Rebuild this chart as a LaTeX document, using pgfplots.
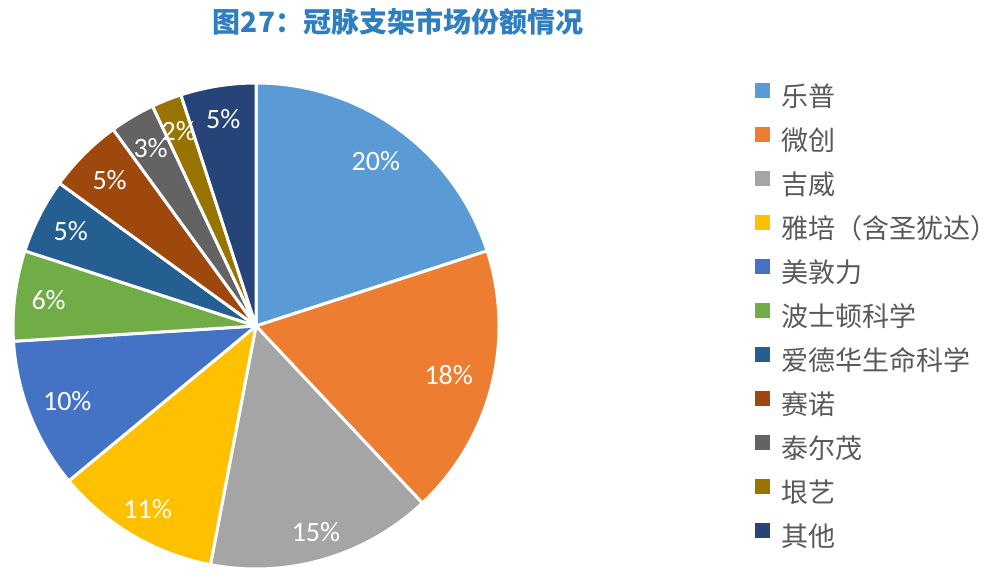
\documentclass[border=0pt]{standalone}
\usepackage{fontspec}
\setmainfont{Noto Sans CJK SC}
\newfontfamily\numfont{Carlito}
\usepackage{pgfplots}
\usepackage{pgfplotstable}
\pgfplotsset{compat=1.18}

\definecolor{c0}{HTML}{5B9BD5}
\definecolor{c1}{HTML}{ED7D31}
\definecolor{c2}{HTML}{A5A5A5}
\definecolor{c3}{HTML}{FFC000}
\definecolor{c4}{HTML}{4472C4}
\definecolor{c5}{HTML}{70AD47}
\definecolor{c6}{HTML}{255E91}
\definecolor{c7}{HTML}{9E480E}
\definecolor{c8}{HTML}{636363}
\definecolor{c9}{HTML}{997300}
\definecolor{c10}{HTML}{264478}
\definecolor{titleblue}{HTML}{2F7EC0}
\definecolor{legtext}{HTML}{595959}

% share (%) and label distance from the centre (px)
\pgfplotstableread{
value lr
20 204
18 199
15 215
11 213
10 203
6  209
5  208
5  207
3  207
2  210
5  209
}\piedata

\pgfplotsset{sq/.style={legend image code/.code={
  \fill[#1] (0pt,1pt) rectangle (7pt,8pt);
  \path (13pt,0pt);}}}

\begin{document}
\begin{tikzpicture}
% start / end / middle angles, clockwise from 12 o'clock
\def\piecum{0}
\pgfplotsforeachungrouped \i in {0,...,10}{%
  \pgfplotstablegetelem{\i}{value}\of\piedata
  \let\pieval\pgfplotsretval
  \pgfplotstablegetelem{\i}{lr}\of\piedata
  \let\pielr\pgfplotsretval
  \pgfmathsetmacro{\piestart}{90-3.6*\piecum}
  \pgfmathsetmacro{\pieend}{90-3.6*(\piecum+\pieval)}
  \pgfmathsetmacro{\piemid}{(\piestart+\pieend)/2}
  \pgfmathsetmacro{\pielrpt}{0.5*\pielr}
  \expandafter\xdef\csname sa\i\endcsname{\piestart}
  \expandafter\xdef\csname sb\i\endcsname{\pieend}
  \expandafter\xdef\csname sm\i\endcsname{\piemid}
  \expandafter\xdef\csname sr\i\endcsname{\pielrpt pt}
  \expandafter\xdef\csname sv\i\endcsname{\pieval}
  \pgfmathsetmacro{\piecum}{\piecum+\pieval}
}

\begin{axis}[
  width=500pt, height=290.5pt, scale only axis,
  xmin=0, xmax=1000, ymin=0, ymax=581,
  hide axis, clip=false,
  legend style={at={(axis cs:755,498)}, anchor=north west,
    draw=none, fill=none, inner sep=0pt, outer sep=0pt,
    font=\fontsize{13.5}{13.5}\selectfont, text=legtext,
    nodes={inner sep=0pt, text height=10pt, text depth=3pt},
    row sep=7.3pt},
  legend cell align=left,
]
\path (axis cs:0,0) rectangle (axis cs:1000,581);

\pgfplotsinvokeforeach{0,...,10}{
  \filldraw[fill=c#1, draw=white, line width=1.5pt, line join=round]
    (axis cs:256,255) -- ++(\csname sa#1\endcsname:121.5pt)
    arc[start angle=\csname sa#1\endcsname, end angle=\csname sb#1\endcsname, radius=121.5pt]
    -- cycle;
}
\pgfplotsinvokeforeach{0,...,10}{
  \path (axis cs:256,255) ++(\csname sm#1\endcsname:\csname sr#1\endcsname)
    node[text=white, font=\numfont\fontsize{14}{14}\selectfont] {\csname sv#1\endcsname\%};
}

\node[font=\bfseries\fontsize{14}{14}\selectfont, text=titleblue] at (axis cs:398,559) {图27：冠脉支架市场份额情况};

\addlegendimage{sq=c0}  \addlegendentry{乐普}
\addlegendimage{sq=c1}  \addlegendentry{微创}
\addlegendimage{sq=c2}  \addlegendentry{吉威}
\addlegendimage{sq=c3}  \addlegendentry{雅培（含圣犹达）}
\addlegendimage{sq=c4}  \addlegendentry{美敦力}
\addlegendimage{sq=c5}  \addlegendentry{波士顿科学}
\addlegendimage{sq=c6}  \addlegendentry{爱德华生命科学}
\addlegendimage{sq=c7}  \addlegendentry{赛诺}
\addlegendimage{sq=c8}  \addlegendentry{泰尔茂}
\addlegendimage{sq=c9}  \addlegendentry{垠艺}
\addlegendimage{sq=c10} \addlegendentry{其他}
\end{axis}
\end{tikzpicture}
\end{document}
